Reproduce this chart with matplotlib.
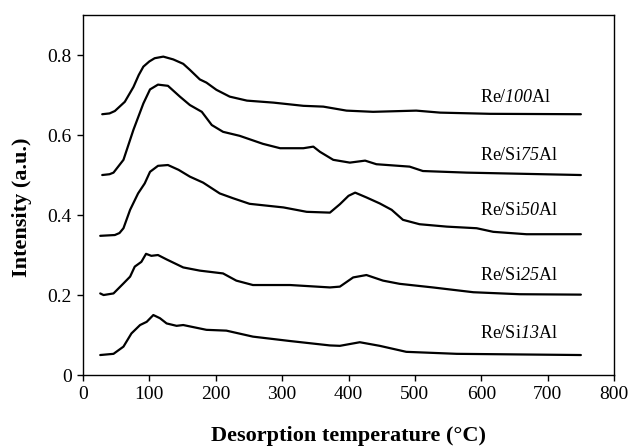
import numpy as np
import matplotlib
matplotlib.use("Agg")
import matplotlib.pyplot as plt
from matplotlib.ticker import FuncFormatter

plt.rcParams['font.family'] = ['Liberation Serif', 'DejaVu Serif']
plt.rcParams['mathtext.fontset'] = 'custom'
plt.rcParams['mathtext.rm'] = 'Liberation Serif'
# sf slot carries the italic serif so digits come out slanted too
plt.rcParams['mathtext.sf'] = 'Liberation Serif:italic'

# TPD profiles: temperature (°C) and intensity (a.u.)
t_100al = [29, 40, 48, 63, 76, 84, 91, 100, 108, 121, 136, 151, 161, 176, 186, 201, 221, 247, 287, 332,
           362, 397, 437, 502, 538, 613, 750]
i_100al = [0.652, 0.654, 0.660, 0.683, 0.720, 0.750, 0.771, 0.784, 0.792, 0.796, 0.789, 0.778, 0.763,
           0.739, 0.731, 0.713, 0.696, 0.686, 0.681, 0.673, 0.671, 0.661, 0.658, 0.661, 0.656, 0.653, 0.652]

t_si75al = [29, 40, 46, 61, 76, 91, 101, 113, 128, 146, 161, 179, 194, 211, 236, 271, 297, 332, 347,
            357, 377, 402, 425, 442, 492, 512, 578, 750]
i_si75al = [0.500, 0.502, 0.506, 0.538, 0.613, 0.679, 0.714, 0.726, 0.723, 0.696, 0.675, 0.658, 0.625,
            0.608, 0.598, 0.578, 0.567, 0.567, 0.571, 0.558, 0.538, 0.531, 0.536, 0.527, 0.521, 0.510,
            0.506, 0.500]

t_si50al = [26, 48, 55, 61, 71, 83, 93, 101, 113, 128, 144, 161, 181, 206, 226, 251, 302, 337, 372,
            387, 400, 410, 427, 447, 465, 482, 507, 548, 593, 618, 668, 750]
i_si50al = [0.348, 0.350, 0.355, 0.367, 0.413, 0.454, 0.479, 0.508, 0.523, 0.525, 0.513, 0.496, 0.481,
            0.454, 0.442, 0.428, 0.419, 0.408, 0.406, 0.427, 0.448, 0.456, 0.444, 0.429, 0.413, 0.388,
            0.377, 0.371, 0.367, 0.358, 0.352, 0.352]

t_si25al = [26, 31, 46, 61, 71, 78, 88, 95, 103, 113, 126, 151, 176, 211, 231, 256, 312, 372, 387,
            407, 427, 452, 477, 527, 588, 658, 750]
i_si25al = [0.204, 0.200, 0.204, 0.229, 0.246, 0.271, 0.283, 0.303, 0.298, 0.300, 0.289, 0.269, 0.261,
            0.254, 0.236, 0.225, 0.225, 0.219, 0.221, 0.244, 0.250, 0.236, 0.228, 0.219, 0.207, 0.202, 0.201]

t_si13al = [26, 46, 61, 73, 86, 96, 106, 116, 126, 141, 151, 186, 216, 256, 312, 372, 387, 417, 447,
            487, 563, 750]
i_si13al = [0.050, 0.053, 0.071, 0.104, 0.125, 0.133, 0.150, 0.142, 0.129, 0.123, 0.125, 0.113, 0.111,
            0.096, 0.085, 0.074, 0.073, 0.082, 0.073, 0.058, 0.053, 0.050]

sample_labels = [r"Re/$\mathsf{100}$Al", r"Re/Si$\mathsf{75}$Al", r"Re/Si$\mathsf{50}$Al",
                 r"Re/Si$\mathsf{25}$Al", r"Re/Si$\mathsf{13}$Al"]
label_y = [0.695, 0.550, 0.412, 0.250, 0.105]
label_x = 598

fig = plt.figure(figsize=(6.3, 4.47), dpi=100)
ax = fig.add_axes([0.1317, 0.161, 0.843, 0.8054])

for t, i in [(t_100al, i_100al), (t_si75al, i_si75al), (t_si50al, i_si50al),
             (t_si25al, i_si25al), (t_si13al, i_si13al)]:
    ax.plot(t, i, color='black', linewidth=1.6, solid_joinstyle='round', solid_capstyle='round')

for lab, y in zip(sample_labels, label_y):
    ax.text(label_x, y, lab, fontsize=13, ha='left', va='center')

ax.set_xlim(0, 800)
ax.set_ylim(0, 0.9)
ax.set_xticks(np.arange(0, 801, 100))
ax.set_yticks([0, 0.2, 0.4, 0.6, 0.8])
ax.yaxis.set_major_formatter(FuncFormatter(lambda v, p: "0" if v == 0 else f"{v:.1f}"))
ax.tick_params(direction='out', length=4, width=1, labelsize=14, top=False, right=False, pad=4)
for s in ax.spines.values():
    s.set_linewidth(1)

# axis titles placed in figure coordinates
fig.text(0.553, 0.024, "Desorption temperature (°C)", fontsize=16, fontweight='bold',
         ha='center', va='center')
fig.text(0.035, 0.537, "Intensity (a.u.)", fontsize=16, fontweight='bold',
         ha='center', va='center', rotation=90)

fig.savefig("out.png", dpi=100)
